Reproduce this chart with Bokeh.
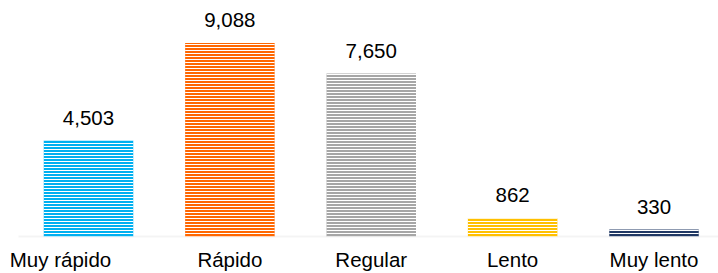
from bokeh.plotting import figure
from bokeh.models import ColumnDataSource, LabelSet, Range1d, BoxAnnotation
from bokeh.core.properties import value
from bokeh.embed import file_html
from bokeh.resources import INLINE

categories = ["Muy rápido", "Rápido", "Regular", "Lento", "Muy lento"]
values = [4503, 9088, 7650, 862, 330]
colors = ["#00B0F0", "#FF6600", "#A6A6A6", "#FFC000", "#203864"]
label_shift = [-28, 0, 0, 0, 0]

xs = list(range(len(categories)))
src = ColumnDataSource(dict(
    x=xs, top=values, color=colors, cat=categories,
    val=[f"{v:,}" for v in values], dx=label_shift,
))

p = figure(width=718, height=273, output_backend="svg", toolbar_location=None,
           x_range=Range1d(-0.6225, 4.4562), y_range=Range1d(-1737, 11080),
           min_border_left=0, min_border_right=0, min_border_top=0,
           min_border_bottom=0)

p.vbar(x="x", top="top", width=0.633, source=src, fill_color="color",
       line_color=None, hatch_pattern="horizontal_line", hatch_color="white",
       hatch_weight=1, hatch_scale=3)

p.xaxis.visible = False
p.yaxis.visible = False
p.xgrid.visible = False
p.ygrid.visible = False
p.outline_line_color = None

base = BoxAnnotation(left=18, left_units="screen", bottom=0, top=0,
                     fill_alpha=0, line_color="#D9D9D9", line_width=2,
                     level="underlay")
p.add_layout(base)

font = value("Liberation Sans")
vals = LabelSet(x="x", y="top", text="val", source=src, text_align="center",
                text_baseline="alphabetic", y_offset=15.7, text_font=font,
                text_font_size="20.5px", text_color="#000000")
cats = LabelSet(x="x", y=0, text="cat", source=src, text_align="center",
                text_baseline="alphabetic", y_offset=-30.5, x_offset="dx",
                text_font=font, text_font_size="20.5px", text_color="#000000")
p.add_layout(vals)
p.add_layout(cats)

open("out.html", "w").write(file_html(p, INLINE))
